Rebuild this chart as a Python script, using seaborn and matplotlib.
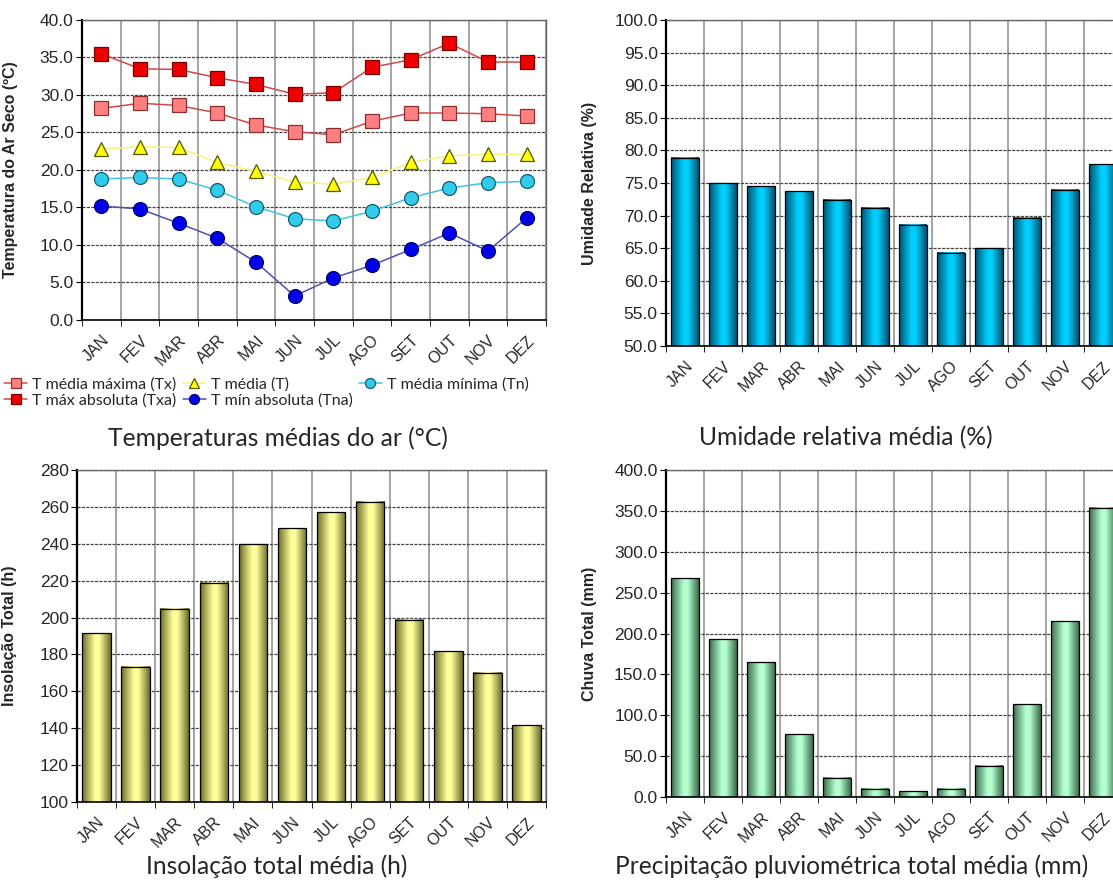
import matplotlib
matplotlib.use("Agg")
import matplotlib.pyplot as plt
import seaborn as sns
import pandas as pd
import numpy as np
from matplotlib.colors import LinearSegmentedColormap
from matplotlib.ticker import MultipleLocator, FormatStrFormatter

# dados mensais
meses = ['JAN', 'FEV', 'MAR', 'ABR', 'MAI', 'JUN', 'JUL', 'AGO', 'SET', 'OUT', 'NOV', 'DEZ']

t_max_abs = [35.5, 33.5, 33.4, 32.3, 31.4, 30.1, 30.3, 33.7, 34.7, 36.9, 34.4, 34.4]
t_med_max = [28.2, 28.9, 28.6, 27.6, 26.0, 25.1, 24.7, 26.5, 27.6, 27.6, 27.5, 27.2]
t_media = [22.8, 23.1, 23.0, 21.0, 19.8, 18.4, 18.1, 19.0, 21.0, 21.9, 22.1, 22.1]
t_med_min = [18.8, 19.0, 18.8, 17.3, 15.1, 13.5, 13.2, 14.5, 16.3, 17.6, 18.3, 18.5]
t_min_abs = [15.2, 14.8, 12.9, 10.9, 7.7, 3.2, 5.6, 7.3, 9.4, 11.6, 9.2, 13.6]

umidade = [78.9, 75.0, 74.5, 73.7, 72.4, 71.2, 68.6, 64.3, 65.0, 69.7, 74.0, 77.9]
insolacao = [191.5, 173.3, 204.9, 219.0, 239.7, 248.4, 257.1, 262.9, 198.8, 181.7, 170.1, 141.7]
chuva = [267.8, 193.1, 164.9, 76.7, 23.3, 10.2, 6.9, 10.2, 38.0, 113.5, 214.7, 353.9]

sns.set_style("white")
plt.rcParams['font.family'] = ['Liberation Sans', 'DejaVu Sans']

W, H = 1113, 892
fig = plt.figure(figsize=(W / 100, H / 100), dpi=100)


def px_axes(x0, x1, y0, y1):
    return fig.add_axes([x0 / W, 1 - y1 / H, (x1 - x0) / W, (y1 - y0) / H])


def estilo(ax, ylabel, step, fmt, lbl_x):
    ax.set_xlim(-0.5, 11.5)
    ax.set_axisbelow(True)
    ax.yaxis.set_major_locator(MultipleLocator(step))
    ax.yaxis.set_major_formatter(FormatStrFormatter(fmt))
    ax.yaxis.grid(True, linestyle=(0, (2.5, 1)), color='#444444', lw=0.9)
    ax.set_xticks(np.arange(12))
    ax.set_xticks(np.arange(-0.5, 12, 1), minor=True)
    ax.xaxis.grid(True, which='minor', color='#8c8c8c', lw=1.1)
    ax.xaxis.grid(False, which='major')
    ax.set_xticklabels(meses, rotation=45, ha='right', rotation_mode='anchor', fontsize=11.5)
    ax.tick_params(axis='x', which='major', length=0, pad=9)
    ax.tick_params(axis='x', which='minor', length=4, direction='out', color='black')
    ax.tick_params(axis='y', length=4, direction='out', color='black', labelsize=12.5, pad=2)
    ax.tick_params(left=True, bottom=True, which='both')
    ax.set_xlabel('')
    ax.set_ylabel(ylabel, fontsize=11.5, fontweight='bold')
    ax.yaxis.set_label_coords(lbl_x, 0.5)
    ax.spines['left'].set_color('black')
    ax.spines['left'].set_linewidth(1.6)
    ax.spines['bottom'].set_color('black')
    ax.spines['bottom'].set_linewidth(1.2)
    for s in ('top', 'right'):
        ax.spines[s].set_color('#666666')
        ax.spines[s].set_linewidth(1.0)


def sombrear(ax, escuro, claro):
    # efeito cilíndrico nas barras
    cmap = LinearSegmentedColormap.from_list('cil', [(0, escuro), (0.45, claro), (0.6, claro), (1, escuro)])
    grad = np.linspace(0, 1, 128).reshape(1, -1)
    ylo, yhi = ax.get_ylim()
    for p in ax.patches:
        x0, y0 = p.get_x(), p.get_y()
        w, h = p.get_width(), p.get_height()
        im = ax.imshow(grad, extent=[x0, x0 + w, max(y0, ylo), min(y0 + h, yhi)], aspect='auto',
                       cmap=cmap, interpolation='bilinear', zorder=2)
        im.set_clip_path(p)
        im.set_clip_box(ax.bbox)
        p.set_facecolor('none')
        p.set_zorder(3)
    ax.set_ylim(ylo, yhi)
    ax.set_xlim(-0.5, 11.5)


# --- Temperaturas
ax1 = px_axes(82, 546, 20, 320)
df_t = pd.DataFrame({'mes': meses})
series = [
    ('T média máxima (Tx)', t_med_max, 's', '#d04848', '#ff8080', '#8a3030', 10.5),
    ('T máx absoluta (Txa)', t_max_abs, 's', '#d04848', '#ee0000', '#7a0000', 10.5),
    ('T média (T)', t_media, '^', '#f4f47a', '#ffff00', '#555500', 10.5),
    ('T mín absoluta (Tna)', t_min_abs, 'o', '#5050b0', '#0000ee', '#00006a', 10),
    ('T média mínima (Tn)', t_med_min, 'o', '#40c4e0', '#30ccee', '#1a5a70', 10),
]
for nome, vals, mk, lc, fc, ec, ms in series:
    df_t['v'] = vals
    sns.lineplot(data=df_t, x='mes', y='v', sort=False, ax=ax1, color=lc, lw=1.1,
                 marker=mk, markersize=ms, markerfacecolor=fc, markeredgecolor=ec,
                 markeredgewidth=0.9, label=nome)
ax1.set_ylim(0, 40)
estilo(ax1, 'Temperatura do Ar Seco (ºC)', 5, '%.1f', -0.137)
handles, labels = ax1.get_legend_handles_labels()
ax1.get_legend().remove()
fig.legend(handles, labels, ncol=3, loc='upper left', bbox_to_anchor=(4 / W, 1 - 377 / H),
           frameon=False, prop={'family': 'Lato', 'size': 11.5}, handlelength=1.45,
           handletextpad=0.3, columnspacing=0.4, labelspacing=0.1, borderaxespad=0,
           borderpad=0, markerscale=0.72)

# --- Umidade relativa
ax2 = px_axes(666, 1122, 20, 346)
sns.barplot(x=meses, y=umidade, ax=ax2, color='#00ccff', width=0.73, saturation=1,
            edgecolor='black', linewidth=0.9)
ax2.set_ylim(50, 100)
sombrear(ax2, '#00506e', '#00d0ff')
estilo(ax2, 'Umidade Relativa (%)', 5, '%.1f', -0.151)

# --- Insolação
ax3 = px_axes(77, 546, 470, 802)
sns.barplot(x=meses, y=insolacao, ax=ax3, color='#ffff99', width=0.73, saturation=1,
            edgecolor='black', linewidth=0.9)
ax3.set_ylim(100, 280)
sombrear(ax3, '#6a6a28', '#ffff9a')
estilo(ax3, 'Insolação Total (h)', 20, '%d', -0.128)

# --- Chuva
ax4 = px_axes(666, 1122, 470, 797)
sns.barplot(x=meses, y=chuva, ax=ax4, color='#b0ffcc', width=0.73, saturation=1,
            edgecolor='black', linewidth=0.9)
ax4.set_ylim(0, 400)
sombrear(ax4, '#3a6a4c', '#b4ffd0')
estilo(ax4, 'Chuva Total (mm)', 50, '%.1f', -0.151)

# títulos
tprop = dict(family='Lato', fontsize=17.7, ha='center', va='center')
fig.text(278 / W, 1 - 438 / H, 'Temperaturas médias do ar (°C)', **tprop)
fig.text(846 / W, 1 - 438 / H, 'Umidade relativa média (%)', **tprop)
fig.text(277 / W, 1 - 866 / H, 'Insolação total média (h)', **tprop)
fig.text(852 / W, 1 - 866 / H, 'Precipitação pluviométrica total média (mm)', **tprop)

fig.savefig('out.png', dpi=100)
